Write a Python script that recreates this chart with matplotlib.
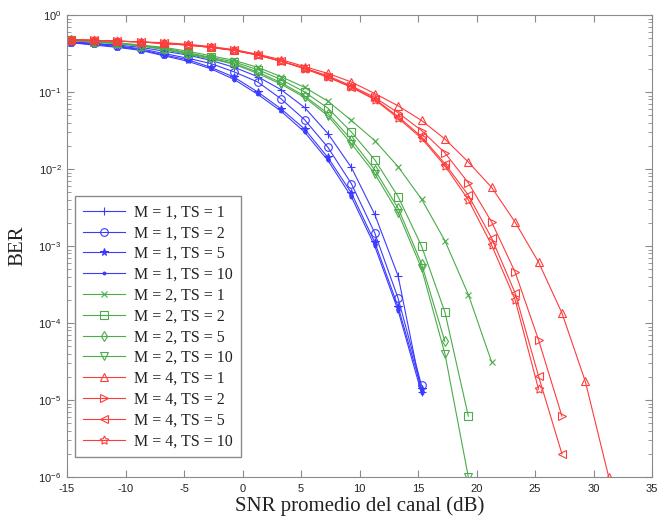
"""BER vs average channel SNR for several M / TS configurations."""

import matplotlib

matplotlib.use("Agg")
import matplotlib.pyplot as plt
from matplotlib.ticker import LogLocator, FixedLocator

# SNR grid (dB), every 2 dB
snr_db = [-14.7, -12.7, -10.7, -8.7, -6.7, -4.7, -2.7, -0.7, 1.3, 3.3, 5.3, 7.3,
          9.3, 11.3, 13.3, 15.3, 17.3, 19.3, 21.3, 23.3, 25.3, 27.3, 29.3, 31.3]

# M = 1
ber_m1_ts1 = [0.447, 0.427, 0.407, 0.380, 0.339, 0.302, 0.257, 0.209, 0.158, 0.107,
              0.063, 0.0288, 0.0105, 2.57e-3, 4.07e-4, 1.26e-5]
ber_m1_ts2 = [0.447, 0.427, 0.398, 0.363, 0.316, 0.275, 0.234, 0.182, 0.135, 0.0813,
              0.0437, 0.0191, 6.46e-3, 1.48e-3, 2.09e-4, 1.55e-5]
ber_m1_ts5 = [0.437, 0.417, 0.389, 0.355, 0.302, 0.263, 0.209, 0.155, 0.100, 0.0603,
              0.0331, 0.0141, 4.90e-3, 1.12e-3, 1.62e-4, 1.41e-5]
ber_m1_ts10 = [0.437, 0.407, 0.380, 0.347, 0.295, 0.251, 0.200, 0.145, 0.0933, 0.0562,
               0.0302, 0.0129, 4.37e-3, 1.0e-3, 1.45e-4, 1.23e-5]

# M = 2
ber_m2_ts1 = [0.468, 0.457, 0.437, 0.407, 0.380, 0.339, 0.295, 0.257, 0.209, 0.158,
              0.115, 0.0759, 0.0427, 0.0234, 0.0107, 4.07e-3, 1.17e-3, 2.34e-4, 3.09e-5]
ber_m2_ts2 = [0.468, 0.447, 0.427, 0.398, 0.372, 0.324, 0.282, 0.245, 0.195, 0.145,
              0.100, 0.0617, 0.0302, 0.0132, 4.37e-3, 1.0e-3, 1.38e-4, 6.17e-6]
ber_m2_ts5 = [0.468, 0.447, 0.427, 0.398, 0.363, 0.316, 0.275, 0.234, 0.182, 0.132,
              0.0891, 0.0525, 0.0240, 9.77e-3, 3.09e-3, 5.89e-4, 5.75e-5]
ber_m2_ts10 = [0.468, 0.447, 0.427, 0.398, 0.355, 0.309, 0.269, 0.229, 0.174, 0.126,
               0.0851, 0.0490, 0.0214, 8.71e-3, 2.69e-3, 5.13e-4, 3.98e-5, 1.0e-6]

# M = 4
ber_m4_ts1 = [0.479, 0.468, 0.457, 0.447, 0.437, 0.417, 0.389, 0.355, 0.309, 0.263,
              0.214, 0.174, 0.135, 0.0955, 0.0661, 0.0427, 0.0245, 0.0123, 5.75e-3,
              2.04e-3, 6.17e-4, 1.35e-4, 1.74e-5, 1.0e-6]
ber_m4_ts2 = [0.479, 0.468, 0.457, 0.447, 0.427, 0.407, 0.380, 0.347, 0.302, 0.251,
              0.204, 0.162, 0.120, 0.0851, 0.0537, 0.0316, 0.0162, 6.61e-3, 2.04e-3,
              4.57e-4, 6.03e-5, 6.17e-6]
ber_m4_ts5 = [0.479, 0.468, 0.457, 0.447, 0.427, 0.407, 0.380, 0.347, 0.302, 0.251,
              0.204, 0.158, 0.117, 0.0813, 0.0479, 0.0263, 0.0117, 4.57e-3, 1.26e-3,
              2.45e-4, 2.04e-5, 2.0e-6]
ber_m4_ts10 = [0.479, 0.468, 0.457, 0.447, 0.427, 0.407, 0.380, 0.347, 0.302, 0.251,
               0.200, 0.155, 0.115, 0.0794, 0.0457, 0.0251, 0.0110, 3.98e-3, 1.02e-3,
               2.0e-4, 1.38e-5]

labels = ["M = 1, TS = 1", "M = 1, TS = 2", "M = 1, TS = 5", "M = 1, TS = 10",
          "M = 2, TS = 1", "M = 2, TS = 2", "M = 2, TS = 5", "M = 2, TS = 10",
          "M = 4, TS = 1", "M = 4, TS = 2", "M = 4, TS = 5", "M = 4, TS = 10"]
series = [ber_m1_ts1, ber_m1_ts2, ber_m1_ts5, ber_m1_ts10,
          ber_m2_ts1, ber_m2_ts2, ber_m2_ts5, ber_m2_ts10,
          ber_m4_ts1, ber_m4_ts2, ber_m4_ts5, ber_m4_ts10]

BLUE, GREEN, RED = "#3b3bff", "#4aac4a", "#ff3b3b"
colors = [BLUE] * 4 + [GREEN] * 4 + [RED] * 4
markers = ["+", "o", "*", ".", "x", "s", "d", "v", "^", ">", "<", (5, 1, 0)]
sizes = [6, 5.5, 5.5, 4, 4.5, 5.5, 5.5, 5.5, 6, 6, 6, 6.5]
filled = [False, False, True, True, False, False, False, False,
          False, False, False, False]

plt.rcParams["mathtext.default"] = "regular"
plt.rcParams["axes.unicode_minus"] = False
fig = plt.figure(figsize=(6.59, 5.24), dpi=100)
ax = fig.add_axes([0.1017, 0.0897, 0.8877, 0.8817])

for ber, label, color, marker, size, fill in zip(series, labels, colors, markers, sizes, filled):
    ax.semilogy(snr_db[:len(ber)], ber, color=color, linewidth=0.8, marker=marker,
                markersize=size, markeredgewidth=0.8,
                markerfacecolor=color if fill else "none", label=label)

ax.set_xlim(-15, 35)
ax.set_ylim(1e-6, 1)
ax.xaxis.set_major_locator(FixedLocator(range(-15, 36, 5)))
ax.yaxis.set_major_locator(LogLocator(base=10, numticks=10))
ax.yaxis.set_minor_locator(LogLocator(base=10, subs=range(2, 10), numticks=20))

frame = "#8a8a8a"
for spine in ax.spines.values():
    spine.set_color(frame)
ax.tick_params(which="both", direction="in", top=True, right=True, color=frame)
ax.tick_params(which="major", length=5, labelsize=8, labelcolor="#222222")
ax.tick_params(axis="x", which="major", pad=5)
ax.tick_params(axis="y", which="major", pad=4)
ax.tick_params(which="minor", length=3)
for lab in ax.get_xticklabels() + ax.get_yticklabels():
    lab.set_family("Liberation Sans")

ax.set_xlabel("SNR promedio del canal (dB)", family="Liberation Serif", fontsize=15,
              color="#222222", labelpad=2)
ax.set_ylabel("BER", family="Liberation Serif", fontsize=15, color="#222222", labelpad=8)

leg = ax.legend(loc="lower left", bbox_to_anchor=(0.0137, 0.043), borderaxespad=0,
                prop={"family": "Liberation Serif", "size": 11.5},
                handlelength=2.6, labelspacing=0.3, borderpad=0.5, handletextpad=0.6,
                fancybox=False, framealpha=1, edgecolor=frame)
leg.get_frame().set_linewidth(1.0)
for text in leg.get_texts():
    text.set_color("#222222")

fig.savefig("out.png", dpi=100)
plt.close(fig)
